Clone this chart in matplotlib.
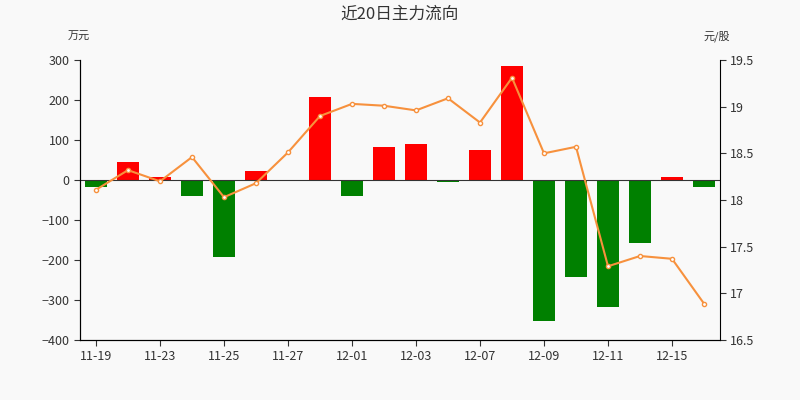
import matplotlib.pyplot as plt

plt.rcParams['font.family'] = ['Noto Sans CJK SC', 'DejaVu Sans']

dates = ["11-19", "11-20", "11-23", "11-24", "11-25", "11-26", "11-27", "11-30",
         "12-01", "12-02", "12-03", "12-04", "12-07", "12-08", "12-09", "12-10",
         "12-11", "12-14", "12-15", "12-16"]
flow = [-18, 45, 7, -40, -193, 23, 0, 208, -40, 82, 90, -4, 75, 285,
        -353, -243, -318, -158, 8, -18]
price = [18.11, 18.32, 18.20, 18.46, 18.03, 18.18, 18.51, 18.90, 19.03, 19.01,
         18.96, 19.09, 18.83, 19.31, 18.50, 18.57, 17.29, 17.40, 17.37, 16.89]

bg = '#f9f9f9'
fig = plt.figure(figsize=(8, 4), dpi=100, facecolor=bg)
ax = fig.add_axes([0.1, 0.15, 0.8, 0.7], facecolor=bg)
x = list(range(len(dates)))
colors = ['#ff0000' if v >= 0 else '#008000' for v in flow]
ax.bar(x, flow, width=0.7, color=colors)
ax.axhline(0, color='#333333', lw=0.8)
ax.set_ylim(-400, 300)
ax.set_xlim(-0.5, len(dates) - 0.5)
ax.set_yticks(range(-400, 301, 100))
ax.set_xticks(x[::2])
ax.set_xticklabels(dates[::2])

ax2 = ax.twinx()
ax2.plot(x, price, color='#f7913d', lw=1.5, marker='o', ms=3,
         markerfacecolor='white', markeredgecolor='#f7913d')
ax2.set_ylim(16.5, 19.5)
ax2.set_yticks([16.5, 17, 17.5, 18, 18.5, 19, 19.5])
ax2.set_yticklabels(['16.5', '17', '17.5', '18', '18.5', '19', '19.5'])

for a in (ax, ax2):
    for s in ('top',):
        a.spines[s].set_visible(False)
    a.tick_params(labelsize=9, colors='#333333', length=4)
ax.spines['right'].set_visible(False)

fig.text(0.5, 0.965, '近20日主力流向', ha='center', va='center', fontsize=12, color='#333333')
fig.text(0.085, 0.9, '万元', fontsize=8, color='#333333')
fig.text(0.88, 0.9, '元/股', fontsize=8, color='#333333')

fig.savefig('out.png', facecolor=bg)
